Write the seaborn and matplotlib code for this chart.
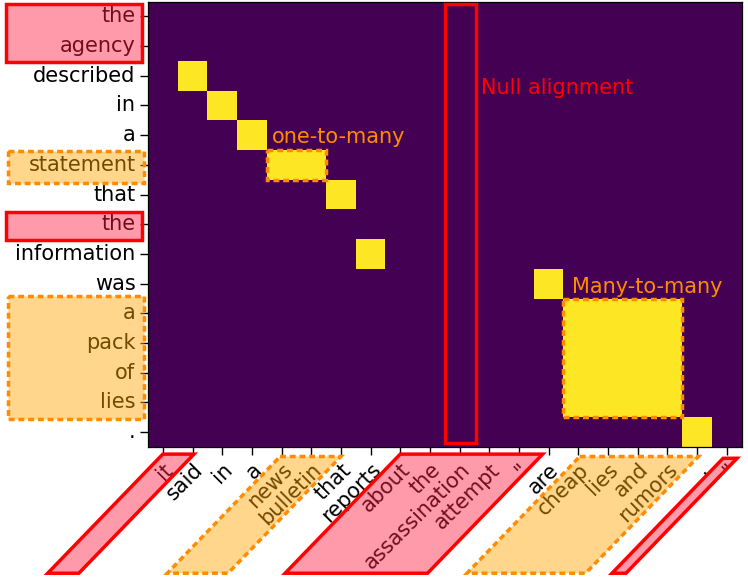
import numpy as np
import matplotlib
matplotlib.use("Agg")
import matplotlib.pyplot as plt
import seaborn as sns
from matplotlib.patches import Rectangle, Polygon

# ---------------- data ----------------
src_tokens = ["the", "agency", "described", "in", "a", "statement", "that", "the",
              "information", "was", "a", "pack", "of", "lies", "."]
tgt_tokens = ["it", "said", "in", "a", "news", "bulletin", "that", "reports", "about",
              "the", "assassination", "attempt", '"', "are", "cheap", "lies", "and",
              "rumors", ".", '"']

# alignment links (source row index, target column index)
link_src = [2, 3, 4, 5, 5, 6, 8, 9,
            10, 10, 10, 10, 11, 11, 11, 11, 12, 12, 12, 12, 13, 13, 13, 13,
            14]
link_tgt = [1, 2, 3, 4, 5, 6, 7, 13,
            14, 15, 16, 17, 14, 15, 16, 17, 14, 15, 16, 17, 14, 15, 16, 17,
            18]

align = np.zeros((len(src_tokens), len(tgt_tokens)))
align[link_src, link_tgt] = 1

# ---------------- figure ----------------
W, H = 748, 577
fig = plt.figure(figsize=(W / 100, H / 100), dpi=100)
ax = fig.add_axes([148 / W, (H - 447) / H, 593.5 / W, 445.5 / H])

sns.heatmap(align, ax=ax, cmap="viridis", vmin=0, vmax=1, cbar=False,
            xticklabels=tgt_tokens, yticklabels=src_tokens, square=False)

for s in ax.spines.values():
    s.set_visible(True)
    s.set_color("black")
    s.set_linewidth(0.9)

ax.tick_params(axis="both", labelsize=15, length=5.5, width=1, color="black")
plt.setp(ax.get_yticklabels(), rotation=0)
plt.setp(ax.get_xticklabels(), rotation=45, ha="right", rotation_mode="anchor")

RED = "red"
PINK = (1.0, 0.12, 0.27, 0.45)
ORANGE_EDGE = "darkorange"
ORANGE_FACE = (1.0, 0.647, 0.0, 0.45)
DASH = (0, (1.7, 1.1))
LW = 2.5

# ---- boxes on source (y) labels ----
def ybox(r0, r1, null=True):
    if null:
        p = Rectangle((-4.78, r0 + 0.08), 4.58, r1 - r0 - 0.04, facecolor=PINK,
                      edgecolor=RED, lw=LW, clip_on=False, zorder=6)
    else:
        p = Rectangle((-4.72, r0 + 0.02), 4.57, r1 - r0 + 0.1, facecolor=ORANGE_FACE,
                      edgecolor=ORANGE_EDGE, lw=LW, ls=DASH, clip_on=False, zorder=6)
    ax.add_patch(p)

ybox(0, 2, True)
ybox(7, 8, True)
ybox(5, 6, False)
ybox(9.9, 13.95, False)

# ---- parallelograms on target (x) labels ----
def xbox(x0, x1, yt, null=True, dx=-3.87, yb=19.25):
    dy = yb - yt
    pts = [(x0, yt), (x1, yt), (x1 + dx * dy / 4.0, yb), (x0 + dx * dy / 4.0, yb)]
    if null:
        p = Polygon(pts, closed=True, facecolor=PINK, edgecolor=RED, lw=LW,
                    clip_on=False, zorder=6)
    else:
        p = Polygon(pts, closed=True, facecolor=ORANGE_FACE, edgecolor=ORANGE_EDGE,
                    lw=LW, ls=DASH, clip_on=False, zorder=6)
    ax.add_patch(p)

xbox(0.5, 1.55, 15.24, True)
xbox(4.45, 6.5, 15.32, False)
xbox(8.5, 13.3, 15.24, True)
xbox(14.55, 18.55, 15.32, False)
xbox(19.38, 19.85, 15.38, True)

# ---- boxes inside the matrix ----
ax.add_patch(Rectangle((10.0, 0.1), 1.05, 14.77, fill=False, edgecolor=RED,
                       lw=LW, zorder=6, clip_on=False))
ax.add_patch(Rectangle((4, 5), 2, 1, fill=False, edgecolor=ORANGE_EDGE,
                       lw=LW, ls=DASH, zorder=6, clip_on=False))
ax.add_patch(Rectangle((14, 10), 4, 4, fill=False, edgecolor=ORANGE_EDGE,
                       lw=LW, ls=DASH, zorder=6, clip_on=False))

ax.text(11.21, 3.11, "Null alignment", color=RED, fontsize=15, va="baseline", ha="left")
ax.text(4.17, 4.77, "one-to-many", color=ORANGE_EDGE, fontsize=15, va="baseline", ha="left")
ax.text(14.28, 9.82, "Many-to-many", color=ORANGE_EDGE, fontsize=15, va="baseline", ha="left")

fig.savefig("out.png", dpi=100)
